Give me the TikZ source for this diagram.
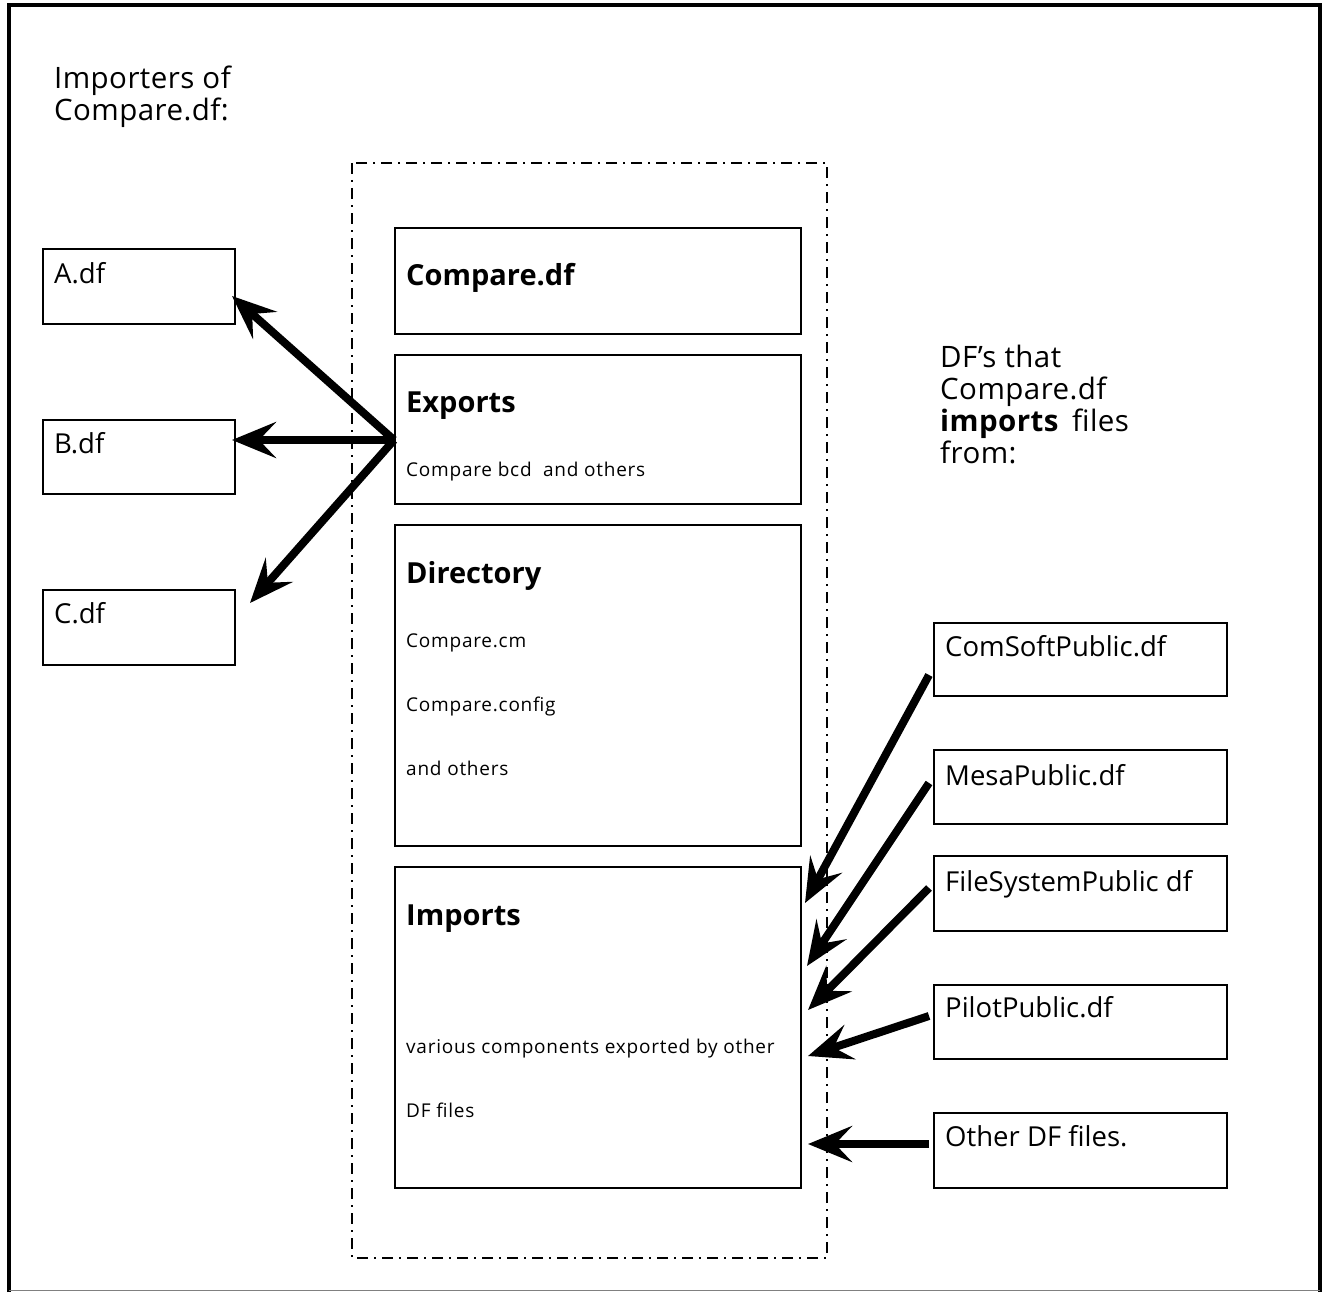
\documentclass[tikz,border=0pt]{standalone}
\usepackage{fontspec}
\setmainfont{Open Sans}
\newfontfamily\spacedfont[LetterSpace=4]{Open Sans}
\newfontfamily\widefont[LetterSpace=1.5]{Open Sans}
\usetikzlibrary{arrows.meta}
\begin{document}
\begin{tikzpicture}[x=1pt,y=-1pt,
  box/.style={draw, line width=1.8pt, rectangle, anchor=north west, inner sep=0pt},
  lbl/.style={anchor=base west, inner sep=0pt, font=\fontsize{27.5}{32}\selectfont},
  side/.style={anchor=north west, inner sep=0pt, align=left, font=\widefont\fontsize{29.5}{32}\selectfont},
  head/.style={anchor=base west, inner sep=0pt, font=\fontsize{29}{34}\selectfont\bfseries},
  small/.style={anchor=base west, inner sep=0pt, font=\spacedfont\fontsize{19}{22}\selectfont},
  arr/.style={line width=8pt, -{Stealth[length=44pt,width=36pt,inset=17pt]}},
]
\useasboundingbox (0,0) rectangle (1324,1292);

% outer frame
\draw[line width=4pt] (9,1292) -- (9,5) -- (1320,5) -- (1320,1292);
\draw[line width=1pt, gray] (9,1290) -- (1320,1290);

% headings at the sides
\node[side] (imp) at (54,66) {Importers of\\Compare.df:};
\node[side] (dfs) at (940,345) {DF’s that\\Compare.df\\\textbf{imports}\ \,files\\from:};

% the Compare.df unit
\draw[line width=1.8pt, dash pattern=on 11pt off 6pt on 2pt off 6pt] (352,163) rectangle (827,1258);

\node[box, minimum width=406pt, minimum height=106pt] (cmp) at (394,227) {};
\node[head] at (406,285) {Compare.df};

\node[box, minimum width=406pt, minimum height=149pt] (exp) at (394,354) {};
\node[head] at (406,412) {Exports};
\node[small] at (406,476) {Compare bcd\ \ and others};

\node[box, minimum width=406pt, minimum height=321pt] (dir) at (394,524) {};
\node[head] at (406,583) {Directory};
\node[small] at (406,647) {Compare.cm};
\node[small] at (406,711) {Compare.config};
\node[small] at (406,775) {and others};

\node[box, minimum width=406pt, minimum height=321pt] (imps) at (394,866) {};
\node[head] at (406,925) {Imports};
\node[small] at (406,1053) {various components exported by other};
\node[small] at (406,1117) {DF files};

% importers
\node[box, minimum width=192pt, minimum height=75pt] (A) at (42,248) {};
\node[lbl] at (54,283) {A.df};
\node[box, minimum width=192pt, minimum height=74pt] (B) at (42,419) {};
\node[lbl] at (54,453) {B.df};
\node[box, minimum width=192pt, minimum height=75pt] (C) at (42,589) {};
\node[lbl] at (54,623) {C.df};

% imported-from files
\node[box, minimum width=293pt, minimum height=73pt] (cs) at (933,622) {};
\node[lbl] at (945,656) {ComSoftPublic.df};
\node[box, minimum width=293pt, minimum height=74pt] (mp) at (933,749) {};
\node[lbl] at (945,785) {MesaPublic.df};
\node[box, minimum width=293pt, minimum height=75pt] (fs) at (933,855) {};
\node[lbl] at (945,891) {FileSystemPublic df};
\node[box, minimum width=293pt, minimum height=74pt] (pp) at (933,984) {};
\node[lbl] at (945,1017) {PilotPublic.df};
\node[box, minimum width=293pt, minimum height=75pt] (ot) at (933,1112) {};
\node[lbl] at (945,1146) {Other DF files.};

% arrow end points
\coordinate (xs) at (394,440);
\coordinate (ta) at (232,296);
\coordinate (tb) at (232,440);
\coordinate (tc) at (250,603);
\coordinate (s1) at (929,675);
\coordinate (t1) at (805,903);
\coordinate (s2) at (929,783);
\coordinate (t2) at (807,966);
\coordinate (s3) at (929,888);
\coordinate (t3) at (808,1010);
\coordinate (s4) at (929,1016);
\coordinate (t4) at (808,1056);
\coordinate (s5) at (929,1144);
\coordinate (t5) at (808,1144);

\draw[arr] (xs) -- (ta);
\draw[arr] (xs) -- (tb);
\draw[arr] (xs) -- (tc);
\draw[arr] (s1) -- (t1);
\draw[arr] (s2) -- (t2);
\draw[arr] (s3) -- (t3);
\draw[arr] (s4) -- (t4);
\draw[arr] (s5) -- (t5);
\end{tikzpicture}
\end{document}
